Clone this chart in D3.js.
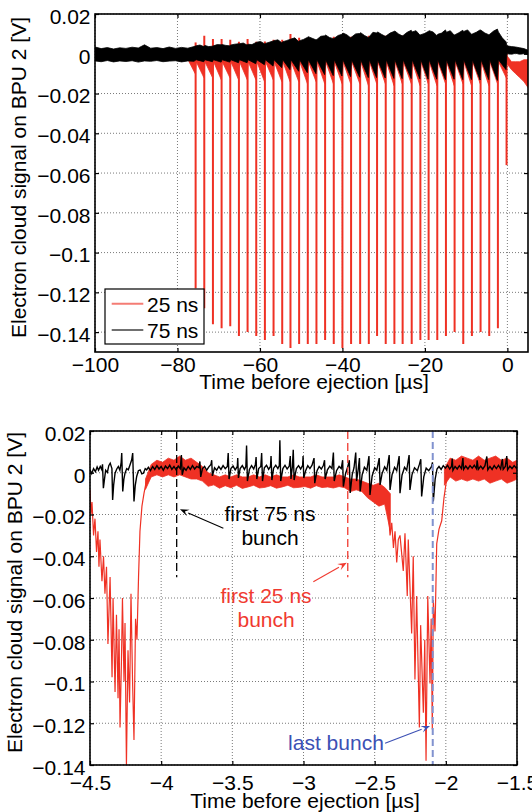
<!DOCTYPE html>
<html>
<head>
<meta charset="utf-8">
<script src="https://cdn.jsdelivr.net/npm/d3@7"></script>
<style>
  body { margin: 0; background: #fff; }
  svg text { font-family: "Liberation Sans", Arial, Helvetica, sans-serif; font-size: 21px; }
</style>
</head>
<body>
<svg id="fig" width="532" height="812"></svg>
<script>
// ---- top panel: whole cycle, one entry per revolution ----
const topXTicks = [-100, -80, -60, -40, -20, 0];
const topYTicks = [0.02, 0, -0.02, -0.04, -0.06, -0.08, -0.1, -0.12, -0.14];

const turnT = [-75.6,-73.5,-71.4,-69.3,-67.2,-65.1,-63.0,-60.9,-58.8,-56.7,-54.6,-52.6,-50.5,-48.4,-46.3,-44.2,-42.1,-40.0,-37.9,-35.7,-33.6,-31.6,-29.5,-27.4,-25.4,-23.2,-21.1,-19.1,-17.0,-14.9,-12.8,-10.7,-8.6,-6.5,-4.4,-2.3,-0.2];
const spikeMin25 = [-0.118,-0.128,-0.136,-0.138,-0.137,-0.142,-0.140,-0.142,-0.144,-0.142,-0.146,-0.148,-0.146,-0.146,-0.146,-0.144,-0.146,-0.148,-0.146,-0.146,-0.146,-0.142,-0.146,-0.146,-0.146,-0.146,-0.144,-0.144,-0.144,-0.142,-0.140,-0.146,-0.142,-0.140,-0.142,-0.138,-0.056];
const tick25 = [0.0057,0.0090,0.0074,0.0074,0.0070,0.0060,0.0074,0.0060,0.0062,0.0070,0.0070,0.0099,0.0080,0.0074,0.0066,0.0080,0.0086,0.0090,0.0085,0.0080,0.0090,0.0085,0.0090,0.0085,0.0090,0.0085,0.0090,0.0085,0.0090,0.0085,0.0090,0.0085,0.0090,0.0085,0.0090,0.0085,0.0040];
const redLoEnd = [-0.010,-0.012,-0.012,-0.013,-0.012,-0.013,-0.013,-0.013,-0.014,-0.013,-0.014,-0.014,-0.014,-0.015,-0.014,-0.015,-0.015,-0.015,-0.015,-0.015,-0.016,-0.015,-0.015,-0.016,-0.015,-0.015,-0.016,-0.015,-0.016,-0.015,-0.016,-0.015,-0.016,-0.015,-0.016,-0.015,-0.012];

// 75 ns envelope between revolutions (start / middle / end of each interval)
const blkHiA = [0.0040,0.0042,0.0040,0.0046,0.0044,0.0050,0.0048,0.0058,0.0052,0.0066,0.0060,0.0074,0.0066,0.0086,0.0072,0.0094,0.0078,0.0104,0.0084,0.0106,0.0086,0.0110,0.0090,0.0114,0.0092,0.0110,0.0096,0.0116,0.0098,0.0108,0.0096,0.0112,0.0100,0.0118,0.0098,0.0110];
const blkHiM = [0.0044,0.0036,0.0046,0.0042,0.0048,0.0054,0.0046,0.0062,0.0058,0.0070,0.0066,0.0080,0.0072,0.0078,0.0088,0.0082,0.0092,0.0096,0.0100,0.0092,0.0108,0.0098,0.0104,0.0100,0.0108,0.0116,0.0102,0.0110,0.0104,0.0116,0.0106,0.0120,0.0108,0.0104,0.0114,0.0080];
const blkHiB = [0.0036,0.0038,0.0045,0.0040,0.0050,0.0044,0.0056,0.0050,0.0064,0.0056,0.0072,0.0062,0.0082,0.0070,0.0090,0.0076,0.0098,0.0080,0.0102,0.0082,0.0104,0.0088,0.0112,0.0090,0.0118,0.0094,0.0112,0.0092,0.0120,0.0094,0.0118,0.0098,0.0120,0.0096,0.0124,0.0060];
const blkLoEnd = [-0.0040,-0.0040,-0.0042,-0.0042,-0.0045,-0.0045,-0.0050,-0.0055,-0.0062,-0.0070,-0.0080,-0.0088,-0.0095,-0.0100,-0.0105,-0.0110,-0.0112,-0.0115,-0.0118,-0.0120,-0.0120,-0.0122,-0.0124,-0.0125,-0.0125,-0.0126,-0.0128,-0.0128,-0.0130,-0.0128,-0.0130,-0.0130,-0.0132,-0.0130,-0.0134,-0.0080];

const preT  = [-100,-98.5,-97,-95.5,-94,-92.5,-91,-89.5,-88,-86.5,-85,-83.5,-82,-80.5,-79,-77.5,-76];
const preHi = [0.0034,0.0026,0.0031,0.0024,0.0030,0.0027,0.0033,0.0029,0.0045,0.0028,0.0031,0.0026,0.0034,0.0027,0.0032,0.0028,0.0036];
const preLo = [-0.0036,-0.0040,-0.0034,-0.0041,-0.0036,-0.0039,-0.0035,-0.0042,-0.0036,-0.0038,-0.0034,-0.0040,-0.0037,-0.0035,-0.0041,-0.0036,-0.0038];

const postT     = [-0.1, 1, 2, 3, 4, 5];
const postBlkHi = [0.0040,0.0036,0.0034,0.0030,0.0026,0.0018];
const postBlkLo = [0.0000,-0.0002,0.0002,-0.0002,0.0000,-0.0004];
const postRedHi = [-0.001,-0.004,-0.004,-0.004,-0.003,-0.003];
const postRedLo = [-0.005,-0.008,-0.010,-0.012,-0.014,-0.017];

// ---- bottom panel: zoom on one revolution ----
const botXTicks = [-4.5, -4, -3.5, -3, -2.5, -2, -1.5];
const botYTicks = [0.02, 0, -0.02, -0.04, -0.06, -0.08, -0.1, -0.12, -0.14];

const redDip1 = [[-4.500,-0.008],[-4.493,-0.020],[-4.486,-0.014],[-4.475,-0.030],[-4.465,-0.022],[-4.454,-0.038],[-4.444,-0.028],[-4.437,-0.045],[-4.430,-0.032],[-4.416,-0.052],[-4.405,-0.040],[-4.395,-0.058],[-4.384,-0.045],[-4.374,-0.082],[-4.359,-0.050],[-4.345,-0.098],[-4.338,-0.060],[-4.324,-0.105],[-4.314,-0.068],[-4.303,-0.108],[-4.296,-0.075],[-4.289,-0.122],[-4.279,-0.090],[-4.272,-0.060],[-4.261,-0.100],[-4.254,-0.072],[-4.244,-0.140],[-4.233,-0.085],[-4.222,-0.110],[-4.212,-0.058],[-4.201,-0.100],[-4.191,-0.128],[-4.180,-0.070],[-4.170,-0.080],[-4.159,-0.050],[-4.149,-0.028],[-4.135,-0.016],[-4.121,-0.010],[-4.107,-0.005],[-4.093,-0.002]];
const redDip2 = [[-2.400,-0.022],[-2.392,-0.030],[-2.380,-0.024],[-2.368,-0.036],[-2.357,-0.028],[-2.345,-0.043],[-2.334,-0.032],[-2.322,-0.030],[-2.299,-0.047],[-2.287,-0.029],[-2.271,-0.059],[-2.264,-0.032],[-2.240,-0.077],[-2.229,-0.040],[-2.217,-0.099],[-2.205,-0.059],[-2.186,-0.122],[-2.177,-0.073],[-2.158,-0.115],[-2.148,-0.080],[-2.139,-0.138],[-2.127,-0.059],[-2.111,-0.101],[-2.103,-0.070],[-2.095,-0.123],[-2.088,-0.061],[-2.076,-0.076],[-2.064,-0.034],[-2.048,-0.027],[-2.029,-0.023],[-2.013,-0.012],[-1.994,-0.003]];

const band1T  = [-4.11,-4.07,-4.03,-3.99,-3.95,-3.91,-3.87,-3.83,-3.79,-3.75,-3.71,-3.67,-3.63,-3.59,-3.55,-3.51,-3.47,-3.43,-3.39,-3.35,-3.31,-3.27,-3.23,-3.19,-3.15,-3.11,-3.07,-3.03,-2.99,-2.95,-2.91,-2.87,-2.83,-2.79,-2.75,-2.71,-2.67,-2.63,-2.59,-2.55,-2.51,-2.47,-2.43,-2.39];
const band1Hi = [-0.003,0.004,0.006,0.005,0.007,0.006,0.008,0.006,0.007,0.005,0.003,0.000,-0.001,-0.002,-0.001,-0.002,-0.001,-0.002,-0.002,-0.001,-0.002,-0.001,-0.002,-0.001,-0.002,-0.002,-0.001,-0.002,-0.002,-0.002,-0.001,-0.002,-0.002,-0.002,-0.001,-0.002,-0.003,-0.003,-0.004,-0.005,-0.006,-0.005,-0.007,-0.010];
const band1Lo = [-0.008,-0.002,-0.001,-0.002,-0.001,-0.002,-0.001,-0.002,-0.003,-0.003,-0.004,-0.0065,-0.0058,-0.0074,-0.0062,-0.0072,-0.0060,-0.0075,-0.0068,-0.0060,-0.0073,-0.0070,-0.0062,-0.0074,-0.0068,-0.0060,-0.0072,-0.0070,-0.0066,-0.0074,-0.0062,-0.0071,-0.0068,-0.0073,-0.0066,-0.0072,-0.0090,-0.0082,-0.0090,-0.0120,-0.0140,-0.0160,-0.0150,-0.0280];
const band2T  = [-2.01,-1.97,-1.93,-1.89,-1.85,-1.81,-1.77,-1.73,-1.69,-1.65,-1.61,-1.57,-1.53,-1.50];
const band2Hi = [0.002,0.007,0.006,0.008,0.007,0.006,0.008,0.006,0.007,0.008,0.006,0.007,0.005,0.006];
const band2Lo = [-0.006,-0.002,-0.004,-0.003,-0.004,-0.003,-0.004,-0.003,-0.005,-0.004,-0.003,-0.005,-0.004,-0.003];

const black75 = [[-4.500,0.0014],[-4.488,-0.0004],[-4.475,0.0020],[-4.462,0.0005],[-4.450,0.0028],[-4.440,0.0012],[-4.428,0.0030],[-4.418,0.0016],[-4.412,0.0040],[-4.406,-0.0074],[-4.398,-0.0030],[-4.390,0.0012],[-4.378,0.0002],[-4.368,0.0034],[-4.358,0.0046],[-4.346,0.0020],[-4.341,-0.0130],[-4.334,-0.0060],[-4.324,-0.0002],[-4.312,0.0018],[-4.301,0.0030],[-4.290,0.0012],[-4.281,0.0050],[-4.277,0.0094],[-4.270,-0.0090],[-4.262,-0.0030],[-4.254,-0.0002],[-4.242,0.0020],[-4.231,0.0014],[-4.218,0.0040],[-4.207,0.0062],[-4.200,0.0094],[-4.191,-0.0138],[-4.182,-0.0060],[-4.172,-0.0018],[-4.160,0.0010],[-4.148,0.0014],[-4.136,-0.0005],[-4.125,-0.0002],[-4.112,0.0020],[-4.102,0.0014],
  [-4.090,0.0026],[-4.075,0.0010],[-4.060,0.0030],[-4.045,0.0016],[-4.030,0.0034],[-4.015,0.0018],[-4.000,0.0030],[-3.985,0.0012],[-3.970,0.0032],[-3.955,0.0020],[-3.940,0.0036],[-3.925,0.0016],[-3.910,0.0030],[-3.895,0.0014],[-3.880,0.0032],[-3.866,0.0020],[-3.858,0.0085],[-3.852,-0.0010],[-3.840,0.0024],[-3.825,0.0012],[-3.810,0.0030],[-3.795,0.0016],[-3.780,0.0034],[-3.765,0.0018],[-3.750,0.0030],[-3.735,0.0024],[-3.728,0.0054],[-3.722,-0.0020],[-3.710,0.0020],[-3.695,0.0030],[-3.680,0.0012],[-3.665,0.0028],[-3.650,0.0040],[-3.645,0.0060],[-3.640,-0.0015],[-3.625,0.0024],[-3.610,0.0012],[-3.595,0.0030],[-3.580,0.0016],[-3.565,0.0034],[-3.550,0.0020],[-3.535,0.0030],[-3.529,0.0094],[-3.523,-0.0030],[-3.510,0.0020],[-3.495,0.0032],[-3.480,0.0014],[-3.465,0.0030],[-3.462,0.0070],[-3.457,-0.0025],[-3.445,0.0020],[-3.430,0.0034],[-3.415,0.0016],[-3.405,0.0030],[-3.400,0.0130],[-3.394,-0.0040],[-3.380,0.0016],[-3.365,0.0034],[-3.350,0.0018],[-3.338,0.0040],[-3.333,0.0075],[-3.328,-0.0030],[-3.315,0.0020],[-3.300,0.0030],[-3.294,0.0094],[-3.288,-0.0040],[-3.275,0.0024],[-3.260,0.0036],[-3.245,0.0016],[-3.232,0.0030],[-3.228,0.0080],[-3.222,-0.0035],[-3.210,0.0022],[-3.195,0.0036],[-3.180,0.0020],[-3.170,0.0034],[-3.166,0.0156],[-3.160,-0.0040],[-3.145,0.0020],[-3.130,0.0036],[-3.115,0.0018],[-3.100,0.0032],[-3.093,0.0080],[-3.088,-0.0030],[-3.078,0.0030],[-3.072,0.0110],[-3.066,-0.0035],[-3.050,0.0020],[-3.035,0.0034],[-3.020,0.0018],[-3.006,0.0036],
  [-3.003,0.0080],[-2.998,-0.0025],[-2.985,0.0010],[-2.970,0.0034],[-2.955,0.0020],[-2.940,0.0036],[-2.926,0.0070],[-2.921,-0.0050],[-2.905,0.0010],[-2.890,0.0030],[-2.875,0.0018],[-2.860,0.0036],[-2.852,0.0060],[-2.848,-0.0030],[-2.832,0.0014],[-2.815,0.0032],[-2.800,0.0020],[-2.790,0.0097],[-2.784,-0.0040],[-2.768,0.0010],[-2.750,0.0030],[-2.735,0.0020],[-2.725,0.0060],[-2.720,-0.0066],[-2.705,-0.0006],[-2.690,0.0026],[-2.678,0.0060],[-2.672,-0.0097],[-2.658,-0.0010],[-2.645,0.0024],[-2.633,0.0097],[-2.627,-0.0040],[-2.615,0.0020],[-2.607,0.0070],[-2.602,-0.0090],[-2.588,-0.0010],[-2.572,0.0026],[-2.555,0.0012],[-2.540,0.0080],[-2.533,-0.0106],[-2.518,-0.0016],[-2.500,0.0024],[-2.485,0.0012],[-2.468,0.0070],[-2.462,-0.0058],[-2.448,-0.0004],[-2.430,0.0028],[-2.415,0.0012],[-2.398,0.0085],[-2.392,-0.0082],[-2.378,-0.0010],[-2.360,0.0026],[-2.345,0.0010],[-2.328,0.0080],[-2.322,-0.0098],[-2.308,-0.0012],[-2.290,0.0026],[-2.275,0.0012],[-2.258,0.0085],[-2.252,-0.0082],[-2.238,-0.0010],[-2.220,0.0024],[-2.200,0.0010],[-2.186,0.0040],[-2.176,0.0065],[-2.170,-0.0114],[-2.155,-0.0020],[-2.138,0.0022],[-2.120,0.0010],[-2.100,0.0030],[-2.094,0.0050],[-2.088,-0.0138],[-2.075,-0.0030],[-2.062,0.0018],
  [-2.048,0.0030],[-2.033,0.0016],[-2.018,0.0034],[-2.003,0.0022],[-1.988,0.0036],[-1.973,0.0018],[-1.960,0.0030],[-1.955,0.0068],[-1.950,0.0012],[-1.935,0.0030],[-1.920,0.0018],[-1.905,0.0034],[-1.890,0.0020],[-1.880,0.0070],[-1.875,0.0016],[-1.860,0.0032],[-1.845,0.0018],[-1.830,0.0034],[-1.815,0.0022],[-1.800,0.0036],[-1.785,0.0020],[-1.780,0.0060],[-1.772,0.0016],[-1.755,0.0032],[-1.740,0.0018],[-1.725,0.0034],[-1.712,0.0078],[-1.705,0.0014],[-1.690,0.0030],[-1.675,0.0016],[-1.660,0.0034],[-1.645,0.0020],[-1.630,0.0036],[-1.615,0.0018],[-1.603,0.0066],[-1.597,0.0016],[-1.582,0.0030],[-1.572,0.0080],[-1.566,0.0014],[-1.550,0.0032],[-1.535,0.0020],[-1.520,0.0034],[-1.505,0.0022],[-1.500,0.0030]];

// vertical markers: first 75 ns bunch, first 25 ns bunch, last bunch
const markT   = [-3.891, -2.689, -2.092];
const markTop = [0.02, 0.02, 0.02];
const markBot = [-0.05, -0.05, -0.14];
const markCol = ['#000', '#f03a30', '#8192cf'];

// annotations (text in data coords, arrows tail -> tip)
const noteText = [['first 75 ns', 'bunch'], ['first 25 ns', 'bunch'], ['last bunch']];
const noteT    = [-3.235, -3.263, -2.772];
const noteV    = [-0.0231, -0.0624, -0.1328];
const noteCol  = ['#000', '#f03a30', '#3c50b4'];
const arrowFrom = [[-3.563, -0.0266], [-2.931, -0.0522], [-2.427, -0.1296]];
const arrowTo   = [[-3.868, -0.0175], [-2.696, -0.0431], [-2.111, -0.1213]];

const RED = '#ef3124';
const fmt = d3.format('~g');
const svg = d3.select('#fig');

const xTop = d3.scaleLinear().domain([-100, 5]).range([95, 528]);
const yTop = d3.scaleLinear().domain([-0.15, 0.02]).range([352, 14]);
const xBot = d3.scaleLinear().domain([-4.5, -1.5]).range([90, 517]);
const yBot = d3.scaleLinear().domain([-0.14, 0.02]).range([765, 431]);

function panel(id, x, y, xTicks, yTicks, xPad) {
  const [l, r] = x.range(), [b, t] = y.range();
  const grid = svg.append('g').attr('stroke', '#7a7a7a').attr('stroke-dasharray', '1,2');
  grid.selectAll('.gx').data(xTicks).join('line')
    .attr('x1', d => x(d)).attr('x2', d => x(d)).attr('y1', b).attr('y2', t);
  grid.selectAll('.gy').data(yTicks).join('line')
    .attr('y1', d => y(d)).attr('y2', d => y(d)).attr('x1', l).attr('x2', r);

  svg.append('clipPath').attr('id', id).append('rect')
    .attr('x', l).attr('y', t).attr('width', r - l).attr('height', b - t);
  const data = svg.append('g').attr('clip-path', `url(#${id})`);

  const finish = () => {
    const ax = svg.append('g');
    const style = g => {
      g.select('.domain').remove();
      g.selectAll('line').attr('stroke', '#000').attr('stroke-width', 1.2);
      g.selectAll('text').attr('font-size', 21).attr('font-family', '"Liberation Sans", Arial, sans-serif').attr('fill', '#000');
    };
    ax.append('g').attr('transform', `translate(0,${b})`)
      .call(d3.axisBottom(x).tickValues(xTicks).tickFormat(fmt).tickSize(-4).tickPadding(xPad)).call(style);
    ax.append('g').attr('transform', `translate(0,${t})`)
      .call(d3.axisTop(x).tickValues(xTicks).tickFormat('').tickSize(-4)).call(style);
    ax.append('g').attr('transform', `translate(${l},0)`)
      .call(d3.axisLeft(y).tickValues(yTicks).tickFormat(fmt).tickSize(-4).tickPadding(4.5)).call(style)
      .selectAll('text').attr('dy', '0.44em');
    ax.append('g').attr('transform', `translate(${r},0)`)
      .call(d3.axisRight(y).tickValues(yTicks).tickFormat('').tickSize(-4)).call(style);
    ax.append('rect').attr('x', l).attr('y', t).attr('width', r - l).attr('height', b - t)
      .attr('fill', 'none').attr('stroke', '#000').attr('stroke-width', 1.6);
  };
  return { data, finish };
}

// ---------- top panel ----------
const topP = panel('clipTop', xTop, yTop, topXTicks, topYTicks, 5);

const redBand = [{ t: -77.2, hi: 0, lo: -0.004 }];
turnT.forEach((t, i) => {
  redBand.push({ t: t - 0.1, hi: 0, lo: redLoEnd[i] });
  if (i < turnT.length - 1) redBand.push({ t: t + 0.15, hi: 0, lo: -0.004 });
});
postT.forEach((t, i) => redBand.push({ t, hi: postRedHi[i], lo: postRedLo[i] }));

// black band as a polygon: upper edge left->right, lower edge right->left
const blkUpper = preT.map((t, i) => [t, preHi[i]]);
const blkLower = preT.map((t, i) => [t, preLo[i]]);
blkHiA.forEach((h, i) => {
  blkUpper.push([turnT[i] + 0.12, h], [(turnT[i] + turnT[i + 1]) / 2, blkHiM[i]], [turnT[i + 1] - 0.12, blkHiB[i]]);
  blkLower.push([turnT[i] + 0.12, -0.003], [turnT[i + 1] - 0.12, blkLoEnd[i]]);
});
postT.forEach((t, i) => { blkUpper.push([t, postBlkHi[i]]); blkLower.push([t, postBlkLo[i]]); });

const areaTop = d3.area().x(d => xTop(d.t)).y0(d => yTop(d.lo)).y1(d => yTop(d.hi));
const lineTop = d3.line().x(d => xTop(d[0])).y(d => yTop(d[1]));
topP.data.append('path').datum(redBand).attr('d', areaTop)
  .attr('fill', RED).attr('stroke', RED).attr('stroke-width', 0.8);
topP.data.append('g').selectAll('line').data(turnT).join('line')
  .attr('x1', d => xTop(d)).attr('x2', d => xTop(d))
  .attr('y1', (d, i) => yTop(tick25[i])).attr('y2', (d, i) => yTop(spikeMin25[i]))
  .attr('stroke', RED).attr('stroke-width', 2);
topP.data.append('path').datum(blkUpper.concat(blkLower.slice().reverse()))
  .attr('d', d => lineTop(d) + 'Z')
  .attr('fill', '#000').attr('stroke', '#000').attr('stroke-width', 0.8);
topP.finish();

// legend
const leg = svg.append('g');
leg.append('rect').attr('x', 105).attr('y', 289).attr('width', 99).attr('height', 55)
  .attr('fill', '#fff').attr('stroke', '#000').attr('stroke-width', 1.2);
[['25 ns', '#f47c74'], ['75 ns', '#707070']].forEach(([lab, c], i) => {
  const yy = 303.7 + i * 26.3;
  leg.append('line').attr('x1', 111.7).attr('x2', 143.3).attr('y1', yy).attr('y2', yy)
    .attr('stroke', c).attr('stroke-width', 2);
  leg.append('text').attr('x', 147).attr('y', yy + 8).text(lab);
});

svg.append('text').attr('x', 314).attr('y', 389).attr('text-anchor', 'middle')
  .text('Time before ejection [\u00b5s]');
svg.append('text').attr('transform', 'translate(26,177.5) rotate(-90)').attr('text-anchor', 'middle')
  .text('Electron cloud signal on BPU 2 [V]');

// ---------- bottom panel ----------
const botP = panel('clipBot', xBot, yBot, botXTicks, botYTicks, 10);
const areaBot = d3.area().x(d => xBot(d[0])).y0(d => yBot(d[2])).y1(d => yBot(d[1]));
const lineBot = d3.line().x(d => xBot(d[0])).y(d => yBot(d[1]));

[[band1T, band1Hi, band1Lo], [band2T, band2Hi, band2Lo]].forEach(([T, H, L]) => {
  botP.data.append('path').datum(T.map((t, i) => [t, H[i], L[i]])).attr('d', areaBot)
    .attr('fill', RED).attr('stroke', RED).attr('stroke-width', 0.8);
});
[redDip1, redDip2].forEach(dip => {
  botP.data.append('path').datum(dip).attr('d', lineBot)
    .attr('fill', 'none').attr('stroke', RED).attr('stroke-width', 1.2);
});
botP.data.append('path').datum(black75).attr('d', lineBot)
  .attr('fill', 'none').attr('stroke', '#000').attr('stroke-width', 1.4);

botP.data.append('g').selectAll('line').data(markT).join('line')
  .attr('x1', d => xBot(d)).attr('x2', d => xBot(d))
  .attr('y1', (d, i) => yBot(markTop[i])).attr('y2', (d, i) => yBot(markBot[i]))
  .attr('stroke', (d, i) => markCol[i]).attr('stroke-width', (d, i) => i === 2 ? 2 : 1.3)
  .attr('stroke-dasharray', (d, i) => i === 2 ? '7,4' : '8,4');

botP.finish();

noteText.forEach((lines, i) => {
  const tx = svg.append('text').attr('text-anchor', 'middle').attr('fill', noteCol[i]);
  lines.forEach((s, k) => tx.append('tspan').attr('x', xBot(noteT[i])).attr('y', yBot(noteV[i]) + k * 24).text(s));
  const x1 = xBot(arrowFrom[i][0]), y1 = yBot(arrowFrom[i][1]);
  const x2 = xBot(arrowTo[i][0]), y2 = yBot(arrowTo[i][1]);
  const a = Math.atan2(y2 - y1, x2 - x1), L = 9, W = 3.5;
  const bx = x2 - L * Math.cos(a), by = y2 - L * Math.sin(a);
  svg.append('line').attr('x1', x1).attr('y1', y1).attr('x2', bx).attr('y2', by)
    .attr('stroke', noteCol[i]).attr('stroke-width', 1.1);
  svg.append('path')
    .attr('d', `M${x2},${y2}L${bx - W * Math.sin(a)},${by + W * Math.cos(a)}L${x2 - 0.6 * L * Math.cos(a)},${y2 - 0.6 * L * Math.sin(a)}L${bx + W * Math.sin(a)},${by - W * Math.cos(a)}Z`)
    .attr('fill', noteCol[i]);
});

svg.append('text').attr('x', 305).attr('y', 808).attr('text-anchor', 'middle')
  .text('Time before ejection [\u00b5s]');
svg.append('text').attr('transform', 'translate(22,592.5) rotate(-90)').attr('text-anchor', 'middle')
  .text('Electron cloud signal on BPU 2 [V]');
</script>
</body>
</html>
